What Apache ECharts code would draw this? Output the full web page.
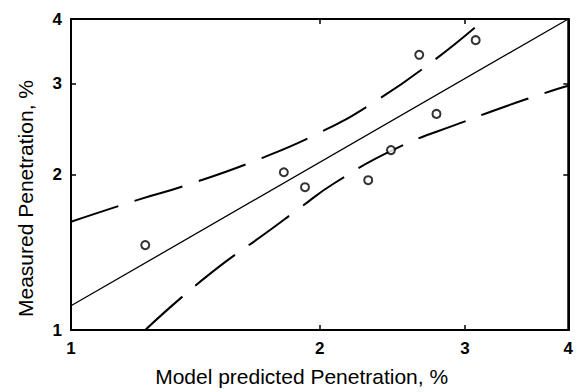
<!DOCTYPE html>
<html>
<head>
<meta charset="utf-8">
<script src="https://cdn.jsdelivr.net/npm/echarts@6/dist/echarts.min.js"></script>
<style>
  html, body { margin: 0; padding: 0; background: #fff; }
  #chart { width: 576px; height: 392px; }
</style>
</head>
<body>
<div id="chart"></div>
<script>
  // tick values on both log axes
  var xTicks = [1, 2, 3, 4];
  var yTicks = [1, 2, 3, 4];

  // measured vs predicted points
  var points = [
    [1.23, 1.46], [1.81, 2.02], [1.92, 1.89], [2.29, 1.95],
    [2.44, 2.23], [2.64, 3.41], [2.77, 2.62], [3.09, 3.64]
  ];

  // fitted line
  var fitLine = [[1, 1.114], [4, 4]];

  // confidence band, upper and lower
  var upperBand = [
    [1, 1.62], [1.21, 1.79], [1.37, 1.90], [1.70, 2.15], [2.0, 2.41],
    [2.31, 2.74], [2.76, 3.34], [3.17, 4.0]
  ];
  var lowerBand = [
    [1.23, 1.0], [1.46, 1.27], [1.75, 1.57], [1.89, 1.72], [2.09, 1.93],
    [2.48, 2.25], [2.97, 2.52], [3.54, 2.79], [4, 2.97]
  ];

  var font = 'Liberation Sans, Arial, sans-serif';

  var chart = echarts.init(document.getElementById('chart'), null, { renderer: 'svg' });

  // axis settings, ticks point inwards
  function mainAxis(ticks, pos, showLabel) {
    return {
      type: 'log',
      logBase: 2,
      min: 1,
      max: 4,
      position: pos,
      axisLine: { show: true, onZero: false, lineStyle: { color: '#000', width: 2, opacity: 1 } },
      axisTick: { show: true, inside: true, length: 5, customValues: ticks, lineStyle: { color: '#000', width: 1.5, opacity: 1 } },
      minorTick: { show: false },
      splitLine: { show: false },
      axisLabel: {
        show: showLabel,
        customValues: ticks,
        color: '#000', fontFamily: font, fontWeight: 'bold', fontSize: 17
      }
    };
  }

  var xMain = mainAxis(xTicks, 'bottom', true);
  xMain.name = 'Model predicted Penetration, %';
  xMain.nameLocation = 'middle';
  xMain.nameGap = 36;
  xMain.nameTextStyle = { color: '#000', fontFamily: font, fontSize: 21, padding: [0, 36, 0, 0] };
  xMain.axisLabel.margin = 10;

  var yMain = mainAxis(yTicks, 'left', true);
  yMain.name = 'Measured Penetration, %';
  yMain.nameLocation = 'middle';
  yMain.nameGap = 35;
  yMain.nameTextStyle = { color: '#000', fontFamily: font, fontSize: 21, padding: [0, 48, 0, 0] };
  yMain.axisLabel.margin = 9;

  var option = {
    animation: false,
    grid: {
      left: 71, right: 5, top: 19, bottom: 59,
      show: true, borderColor: '#000', borderWidth: 2, backgroundColor: 'rgba(0,0,0,0)'
    },
    xAxis: [xMain, mainAxis(xTicks, 'top', false)],
    yAxis: [yMain, mainAxis(yTicks, 'right', false)],
    series: [
      {
        type: 'line',
        data: fitLine,
        symbol: 'none',
        lineStyle: { color: '#000', width: 1.3 }
      },
      {
        type: 'line',
        data: upperBand,
        smooth: true,
        symbol: 'none',
        lineStyle: { color: '#000', width: 2, type: [50, 17] }
      },
      {
        type: 'line',
        data: lowerBand,
        smooth: true,
        symbol: 'none',
        lineStyle: { color: '#000', width: 2, type: [50, 17] }
      },
      {
        type: 'scatter',
        data: points,
        symbol: 'circle',
        symbolSize: 8,
        itemStyle: { color: '#fff', borderColor: '#000', borderWidth: 2 },
        z: 5
      }
    ]
  };
  chart.setOption(option);
</script>
</body>
</html>
